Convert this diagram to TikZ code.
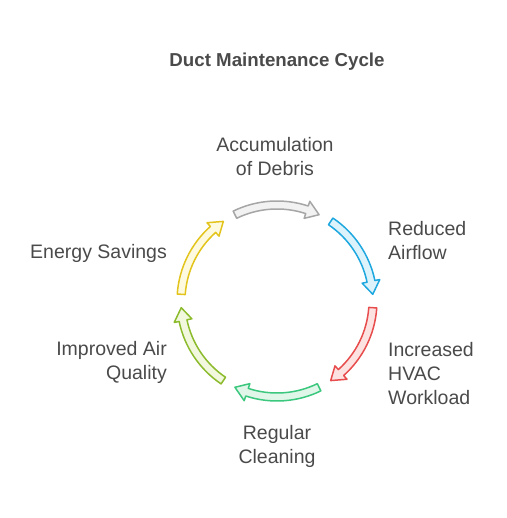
\documentclass[tikz,border=0pt]{standalone}
\usepackage{fontspec}
\setmainfont{Liberation Sans}
\usepackage{xcolor}
\usepackage{tikz}
\usetikzlibrary{positioning}

\definecolor{textgray}{HTML}{4A4A4A}
\definecolor{accline}{HTML}{A6A6A6}\definecolor{accfill}{HTML}{F2F2F2}
\definecolor{airline}{HTML}{1EA8DF}\definecolor{airfill}{HTML}{DDF3FC}
\definecolor{hvacline}{HTML}{E84D4D}\definecolor{hvacfill}{HTML}{FDE2E2}
\definecolor{cleanline}{HTML}{3CC77E}\definecolor{cleanfill}{HTML}{DFF6E9}
\definecolor{qualline}{HTML}{8DBB2E}\definecolor{qualfill}{HTML}{F1F8DD}
\definecolor{saveline}{HTML}{E3C41C}\definecolor{savefill}{HTML}{FEFADF}

% curved cycle arrow: #1 middle angle, #2 line colour, #3 fill colour
\newcommand{\cyclearrow}[3]{%
  \draw[cyc, draw=#2, fill=#3]
    ({#1+26}:100pt) arc[start angle={#1+26}, end angle={#1-18.2}, radius=100pt]
    -- ({#1-18.2}:105pt) -- ({#1-26}:96pt) -- ({#1-18.2}:87pt)
    -- ({#1-18.2}:92pt) arc[start angle={#1-18.2}, end angle={#1+26}, radius=92pt]
    -- cycle;}

\begin{document}
\begin{tikzpicture}[x=1pt, y=1pt,
    % Styles
    title/.style={
        font=\fontsize{18.7}{22}\selectfont\bfseries,
        text=textgray
    },
    step label/.style={
        font=\fontsize{19.5}{24}\selectfont,
        text=textgray,
        inner sep=0pt
    },
    cyc/.style={
        line width=1.5pt,
        line join=round
    }
]
\useasboundingbox (0,0) rectangle (506,518);

% Title
\node[title] (title) at (277,456) {Duct Maintenance Cycle};

% Cycle arrows
\begin{scope}[shift={(277,217)}]
\cyclearrow{90}{accline}{accfill}
\cyclearrow{30}{airline}{airfill}
\cyclearrow{-30}{hvacline}{hvacfill}
\cyclearrow{-90}{cleanline}{cleanfill}
\cyclearrow{-150}{qualline}{qualfill}
\cyclearrow{150}{saveline}{savefill}
\end{scope}

% Step labels
\node[step label, align=center] (debris) at (275,361) {Accumulation\\of Debris};
\node[step label, align=left, anchor=west] (airflow) at (388,277) {Reduced\\Airflow};
\node[step label, align=left, anchor=west] (workload) at (388,144) {Increased\\HVAC\\Workload};
\node[step label, align=center] (cleaning) at (277,72) {Regular\\Cleaning};
\node[step label, align=right, anchor=east] (quality) at (167,156) {Improved Air\\Quality};
\node[step label, align=right, anchor=east] (savings) at (167,265) {Energy Savings};

\end{tikzpicture}
\end{document}
